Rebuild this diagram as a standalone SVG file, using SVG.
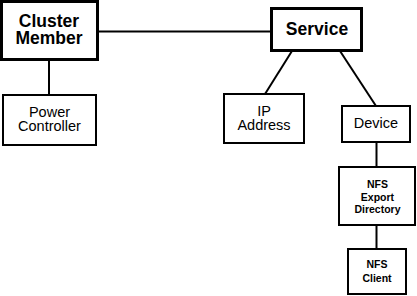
<svg xmlns="http://www.w3.org/2000/svg" width="417" height="296" viewBox="0 0 417 296">
<style>
.box{fill:#fff;stroke:#000;stroke-width:2}
.thick{stroke-width:3}
.big{font-family:"Liberation Sans",Arial,sans-serif;font-weight:bold;font-size:17.5px;text-anchor:middle;fill:#000}
.mid{font-family:"Liberation Sans",Arial,sans-serif;font-size:14.5px;text-anchor:middle;fill:#000}
.small{font-family:"Liberation Sans",Arial,sans-serif;font-weight:bold;font-size:10.5px;text-anchor:middle;fill:#000}
.conn line{stroke:#000;stroke-width:2}
</style>
<rect width="417" height="296" fill="#fff"/>
<g id="connectors" class="conn">
<line x1="99" y1="31.5" x2="270" y2="31.5"/>
<line x1="49" y1="61" x2="49" y2="95"/>
<line x1="292" y1="51" x2="265" y2="94"/>
<line x1="340" y1="51" x2="376" y2="106"/>
<line x1="376.5" y1="142" x2="376.5" y2="167"/>
<line x1="376.5" y1="225" x2="376.5" y2="249"/>
</g>
<g id="cluster-member">
<rect class="box thick" x="1.5" y="1.5" width="96" height="58"/>
<text class="big" x="49" y="27">Cluster</text>
<text class="big" x="49" y="44">Member</text>
</g>
<g id="service">
<rect class="box thick" x="271.5" y="8.5" width="90" height="42"/>
<text class="big" x="317" y="35">Service</text>
</g>
<g id="power-controller">
<rect class="box" x="3" y="95" width="93" height="50"/>
<text class="mid" x="49.5" y="117">Power</text>
<text class="mid" x="49.5" y="131">Controller</text>
</g>
<g id="ip-address">
<rect class="box" x="224" y="94" width="80" height="49"/>
<text class="mid" x="264" y="115.5">IP</text>
<text class="mid" x="264" y="129.5">Address</text>
</g>
<g id="device">
<rect class="box" x="342" y="106" width="68" height="36"/>
<text class="mid" x="376" y="128">Device</text>
</g>
<g id="nfs-export-directory">
<rect class="box" x="339" y="167" width="76" height="58"/>
<text class="small" x="377.5" y="188">NFS</text>
<text class="small" x="377.5" y="200.5">Export</text>
<text class="small" x="377.5" y="213">Directory</text>
</g>
<g id="nfs-client">
<rect class="box" x="348" y="249" width="58" height="45"/>
<text class="small" x="377" y="268">NFS</text>
<text class="small" x="377" y="282">Client</text>
</g>
</svg>
